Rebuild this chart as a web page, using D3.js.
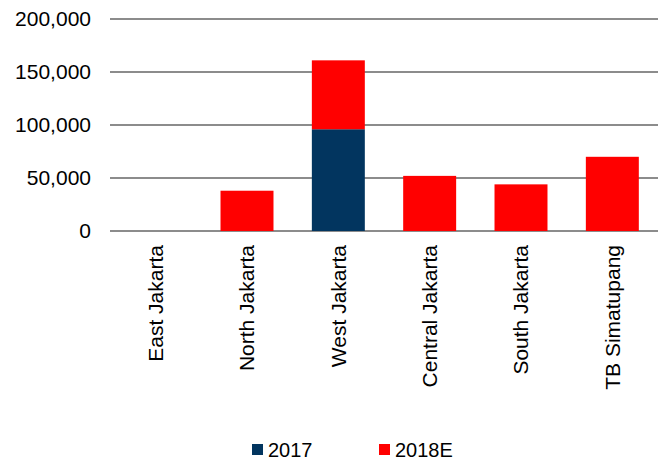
<!DOCTYPE html>
<html>
<head>
<meta charset="utf-8">
<script src="https://cdn.jsdelivr.net/npm/d3@7"></script>
<style>
  html, body { margin: 0; padding: 0; background: #fff; }
  svg { display: block; font-family: "Liberation Sans", Arial, sans-serif; }
</style>
</head>
<body>
<svg id="chart" width="665" height="461"></svg>
<script>
// Office supply by district (sq m), stacked: existing 2017 stock plus 2018 estimate
const categories = ["East Jakarta", "North Jakarta", "West Jakarta", "Central Jakarta", "South Jakarta", "TB Simatupang"];
const seriesNames = ["2017", "2018E"];
const values2017  = [0, 0, 96000, 0, 0, 0];
const values2018E = [0, 38000, 65000, 52000, 44000, 70000];
const yTicks = [0, 50000, 100000, 150000, 200000];
const colors = ["#02355F", "#FF0000"];

const svg = d3.select("#chart");
const plot = { left: 110, right: 658, top: 19, bottom: 231 };

const rows = categories.map((c, i) => ({ cat: c, "2017": values2017[i], "2018E": values2018E[i] }));
const stacked = d3.stack().keys(seriesNames)(rows);

const x = d3.scaleBand().domain(categories).range([plot.left, plot.right]).paddingInner(0.42).paddingOuter(0.21);
const y = d3.scaleLinear().domain([0, 200000]).range([plot.bottom, plot.top]);

// horizontal gridlines
svg.append("g")
  .selectAll("line")
  .data(yTicks)
  .join("line")
  .attr("x1", plot.left).attr("x2", plot.right)
  .attr("y1", d => y(d)).attr("y2", d => y(d))
  .attr("stroke", "#8c8c8c").attr("stroke-width", 1.8);

// y axis labels
const yAxis = d3.axisLeft(y).tickValues(yTicks).tickFormat(d3.format(",")).tickSize(0).tickPadding(0);
const gy = svg.append("g").attr("transform", `translate(${plot.left - 19},0)`).call(yAxis);
gy.select(".domain").remove();
gy.selectAll("text").attr("font-size", 21).attr("fill", "#000")
  .attr("font-family", "'Liberation Sans', Arial, sans-serif");

// stacked bars
svg.append("g")
  .selectAll("g")
  .data(stacked)
  .join("g")
  .attr("fill", (d, i) => colors[i])
  .selectAll("rect")
  .data(d => d)
  .join("rect")
  .attr("x", d => x(d.data.cat))
  .attr("width", x.bandwidth())
  .attr("y", d => y(d[1]))
  .attr("height", d => y(d[0]) - y(d[1]));

// x axis labels, rotated
const xAxis = d3.axisBottom(x).tickSize(0).tickPadding(0);
const gx = svg.append("g").attr("transform", `translate(0,${plot.bottom})`).call(xAxis);
gx.select(".domain").remove();
gx.selectAll("text")
  .attr("font-size", 21).attr("fill", "#000")
  .attr("font-family", "'Liberation Sans', Arial, sans-serif")
  .attr("text-anchor", "end")
  .attr("transform", "rotate(-90)")
  .attr("x", -14).attr("y", 0).attr("dy", "0.35em");

// legend
const legendItems = [
  { name: seriesNames[0], color: colors[0], x: 252 },
  { name: seriesNames[1], color: colors[1], x: 379 }
];
const lg = svg.append("g").selectAll("g").data(legendItems).join("g")
  .attr("transform", d => `translate(${d.x},444)`);
lg.append("rect").attr("width", 11).attr("height", 11).attr("fill", d => d.color);
lg.append("text").attr("x", 16).attr("y", 12.5).attr("font-size", 20).attr("fill", "#000")
  .text(d => d.name);
</script>
</body>
</html>
